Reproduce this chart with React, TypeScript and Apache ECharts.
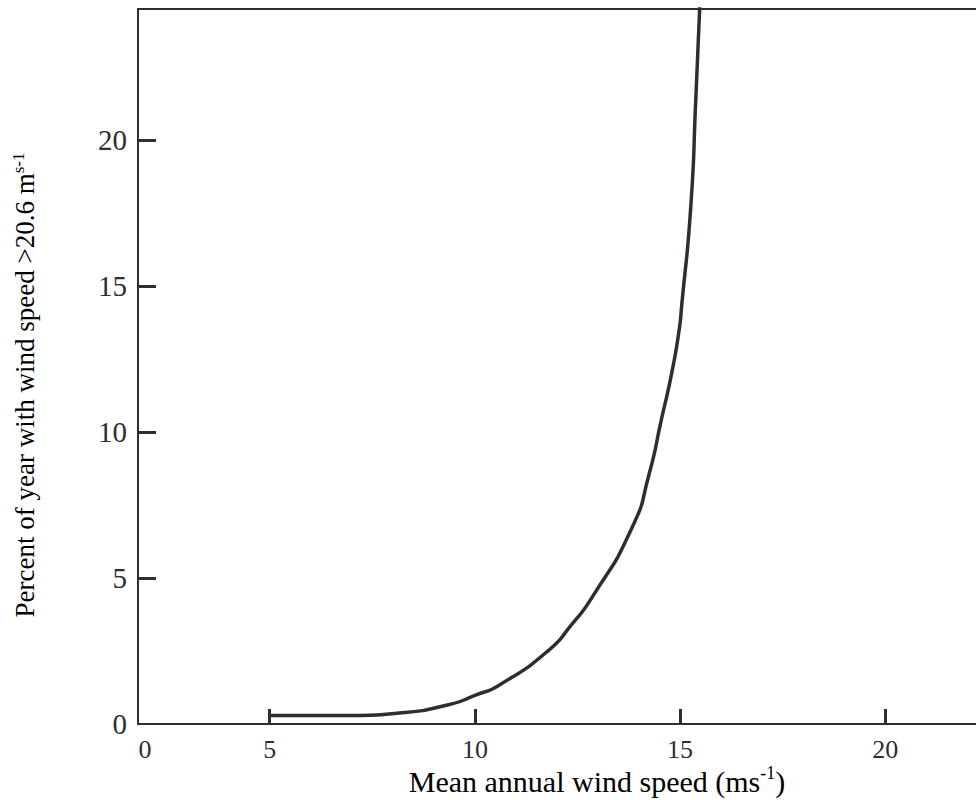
import React, { useEffect, useRef } from "react";
import * as echarts from "echarts";

// Data
const windSpeed = [5.0, 6.95, 8.16, 9.38, 10.03, 10.59, 11.81, 12.34, 12.85, 13.83, 14.24, 14.55, 14.8, 14.97, 15.04, 15.26, 15.38, 15.48];
const percentAbove = [0.29, 0.29, 0.38, 0.67, 1.0, 1.33, 2.54, 3.38, 4.33, 6.73, 8.54, 10.47, 12.06, 13.44, 14.36, 17.73, 21.33, 24.64];
const xTicks = [5, 10, 15, 20];
const yTicks = [5, 10, 15, 20];
const yLabels = [0, 5, 10, 15, 20];

const INK = "#2a3030";
const FONT = "'Liberation Serif', 'Times New Roman', serif";

export default function App() {
  const ref = useRef<HTMLDivElement>(null);
  useEffect(() => {
    if (!ref.current) return;
    const chart = echarts.init(ref.current, null, { renderer: "svg" });
    const data = windSpeed.map((x, i) => [x, percentAbove[i]]);
    const xRich = {
      sup: { fontSize: 18, fontFamily: FONT, color: INK, verticalAlign: "top", lineHeight: 16 },
      n: { fontSize: 30, fontFamily: FONT, color: INK, lineHeight: 34 },
    };
    const yRich = {
      sup: { fontSize: 17, fontFamily: FONT, color: INK, verticalAlign: "top", lineHeight: 15 },
      n: { fontSize: 27, fontFamily: FONT, color: INK, lineHeight: 31 },
    };
    chart.setOption({
      animation: false,
      backgroundColor: "#ffffff",
      grid: { left: 138, top: 9, width: 840, height: 715, containLabel: false },
      xAxis: [
        {
          type: "value",
          min: 1.79,
          max: 22.21,
          position: "bottom",
          axisLine: { show: true, onZero: false, lineStyle: { color: INK, width: 2 } },
          axisTick: { show: true, inside: true, length: 15, customValues: xTicks, lineStyle: { color: INK, width: 3 } },
          axisLabel: { customValues: xTicks, fontSize: 26, fontFamily: FONT, color: INK, margin: 12 },
          splitLine: { show: false },
        },
        {
          type: "value",
          min: 1.79,
          max: 22.21,
          position: "top",
          axisLine: { show: true, onZero: false, lineStyle: { color: INK, width: 2 } },
          axisTick: { show: false },
          axisLabel: { show: false },
          splitLine: { show: false },
        },
      ],
      yAxis: {
        type: "value",
        min: 0,
        max: 24.5,
        axisLine: { show: true, onZero: false, lineStyle: { color: INK, width: 2 } },
        axisTick: { show: true, inside: true, length: 18, customValues: yTicks, lineStyle: { color: INK, width: 3 } },
        axisLabel: { customValues: yLabels, fontSize: 29, fontFamily: FONT, color: INK, margin: 11 },
        splitLine: { show: false },
      },
      graphic: [
        {
          type: "text",
          x: 145,
          y: 749,
          silent: true,
          style: { text: "0", fontSize: 26, fontFamily: FONT, fill: INK, align: "center", verticalAlign: "middle" },
        },
        {
          type: "text",
          x: 597,
          y: 781,
          silent: true,
          style: {
            text: "{n|Mean annual wind speed (ms}{sup|-1}{n|)}",
            rich: xRich,
            align: "center",
            verticalAlign: "middle",
          },
        },
        {
          type: "text",
          x: 25,
          y: 385,
          rotation: Math.PI / 2,
          silent: true,
          style: {
            text: "{n|Percent of year with wind speed >20.6 m}{sup|s-1}",
            rich: yRich,
            align: "center",
            verticalAlign: "middle",
          },
        },
      ],
      series: [
        {
          type: "line",
          data,
          smooth: 0.6,
          showSymbol: false,
          clip: true,
          lineStyle: { color: INK, width: 3.5 },
        },
      ],
    });
    return () => chart.dispose();
  }, []);
  return <div ref={ref} style={{ position: "fixed", left: 0, top: 0, width: 976, height: 800 }} />;
}
